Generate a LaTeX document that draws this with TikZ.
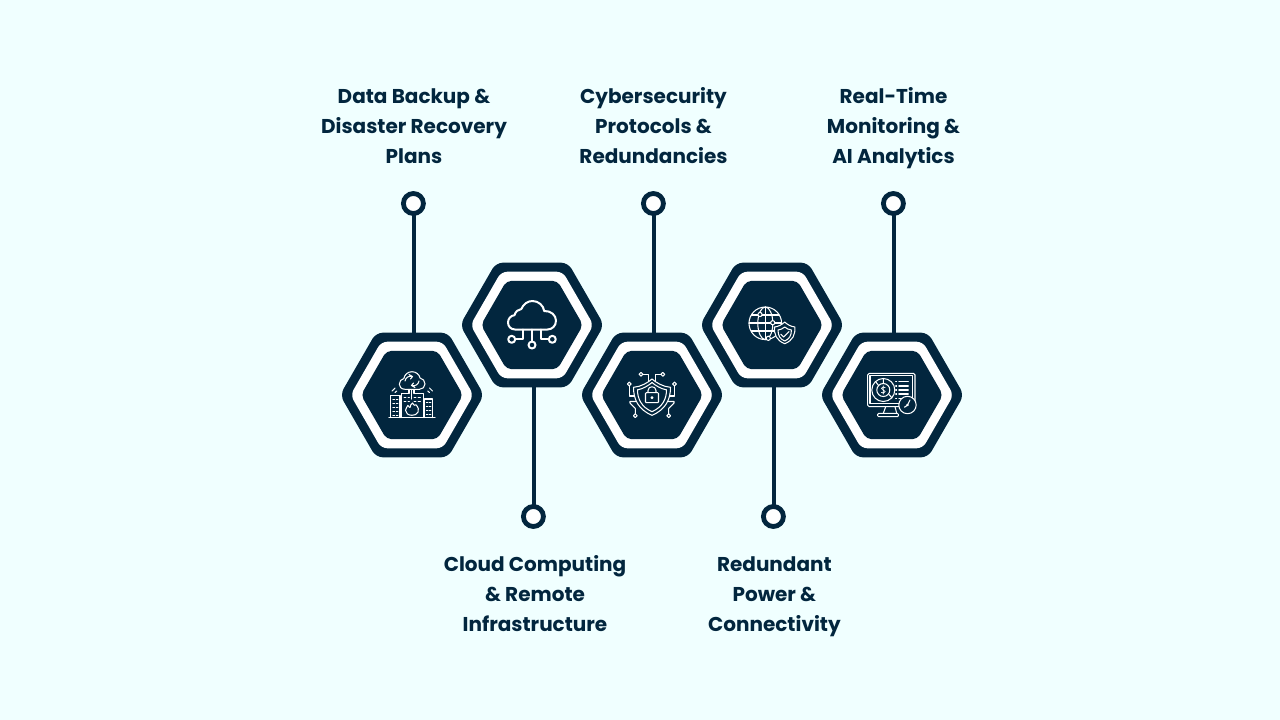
\documentclass[tikz,border=0pt]{standalone}
\usepackage{fontspec}
\setmainfont{Poppins}
\usetikzlibrary{shapes.geometric}
\definecolor{navy}{HTML}{02263E}
\definecolor{bgc}{HTML}{F0FFFF}
\tikzset{
  hexbase/.style={regular polygon,regular polygon sides=6,inner sep=0pt,outer sep=0pt,draw=none},
  hexouter/.style={hexbase,fill=navy,minimum size=144pt,rounded corners=7pt},
  hexring/.style={hexbase,fill=white,minimum size=123pt,rounded corners=6pt},
  hexinner/.style={hexbase,fill=navy,minimum size=102pt,rounded corners=5pt},
  pin/.style={circle,draw=navy,line width=4.8pt,fill=white,minimum size=20pt,inner sep=0pt,outer sep=0pt},
  stem/.style={draw=navy,line width=4.4pt},
  lbl/.style={text=navy,font=\fontsize{20}{30}\selectfont\bfseries,align=center,inner sep=0pt},
  ic/.style={draw=white,line width=1.05pt,line cap=round,line join=round},
  icb/.style={draw=white,line width=2pt,line cap=round,line join=round}
}
\begin{document}
\begin{tikzpicture}[x=1pt,y=-1pt]
\useasboundingbox (0,0) rectangle (1280,720);
\fill[bgc] (0,0) rectangle (1280,720);
% hexagons
\node[hexouter] (h1) at (412,395) {};
\node[hexouter] (h2) at (532,325) {};
\node[hexouter] (h3) at (652,395) {};
\node[hexouter] (h4) at (772,325) {};
\node[hexouter] (h5) at (892,395) {};
\foreach \p in {(412,395),(532,325),(652,395),(772,325),(892,395)}{
  \node[hexring] at \p {};
  \node[hexinner] at \p {};
}
% connectors and pins
\node[pin] (c1) at (413.4,203.5) {};
\node[pin] (c2) at (533.4,516.5) {};
\node[pin] (c3) at (653.4,203.5) {};
\node[pin] (c4) at (773.4,516.5) {};
\node[pin] (c5) at (893.4,203.5) {};
\draw[stem] ([xshift=.6pt]c1.south) -- ([xshift=.6pt]c1.south |- h1.north);
\draw[stem] ([xshift=.6pt]c2.north) -- ([xshift=.6pt]c2.north |- h2.south);
\draw[stem] ([xshift=.6pt]c3.south) -- ([xshift=.6pt]c3.south |- h3.north);
\draw[stem] ([xshift=.6pt]c4.north) -- ([xshift=.6pt]c4.north |- h4.south);
\draw[stem] ([xshift=.6pt]c5.south) -- ([xshift=.6pt]c5.south |- h5.north);
% labels
\node[lbl] (t1) at (414,126) {Data Backup \&\\Disaster Recovery\\Plans};
\node[lbl] (t2) at (535,594) {Cloud Computing\\\& Remote\\Infrastructure};
\node[lbl] (t3) at (653.5,126) {Cybersecurity\\Protocols \&\\Redundancies};
\node[lbl] (t4) at (774.4,597) {Redundant\\Power \&\\Connectivity};
\node[lbl] (t5) at (893.5,128) {Real-Time\\Monitoring \&\\AI Analytics};
% icon 1: building, cloud, fire
\draw[ic] (389,417.7) -- (435,417.7);
\draw[ic] (390.7,417.7) -- (390.7,395.7) -- (400,395.7) -- (400,417.7);
\draw[ic] (401.5,417.7) -- (401.5,393.3) -- (409,393.3) (414,393.3) -- (423.3,393.3) -- (423.3,417.7);
\draw[ic] (424.5,417.7) -- (424.5,399) -- (432.7,399) -- (432.7,417.7);
\foreach \y in {399,403,407,411,415}{
  \draw[ic,line width=.8pt] (392.8,\y) -- (394.6,\y) (396.2,\y) -- (398,\y);
}
\foreach \y in {402,406,410,414}{
  \draw[ic,line width=.8pt] (426.3,\y) -- (428,\y) (429.3,\y) -- (431,\y);
}
\foreach \y in {397.5,401}{
  \draw[ic,line width=.8pt] (404,\y) -- (406,\y) (408,\y) -- (409.5,\y) (414,\y) -- (416,\y) (418,\y) -- (420.5,\y);
}
\draw[ic] (409,393.3) -- (409,389.3) (414,393.3) -- (414,389.3) (411.7,389.3) -- (411.7,399);
\draw[ic] (405,389.3) .. controls (401,389.3) and (399.3,386.5) .. (399.3,384.2) .. controls (399.3,381) and (401.5,379) .. (403.8,378.6) .. controls (404.5,374.5) and (408,371.7) .. (412,371.7) .. controls (416,371.7) and (419.5,374.5) .. (420,378) .. controls (423,378.5) and (425,381) .. (425,384) .. controls (425,387) and (422.5,389.3) .. (419.5,389.3) -- cycle;
\draw[ic] (405,381) .. controls (405.5,377.5) and (409,375.5) .. (412.5,376.5) (409,374.5) -- (412.5,376.5) -- (410.5,379);
\draw[ic] (419,381) .. controls (418.5,384.5) and (415,386.5) .. (411.5,385.5) (415,387.5) -- (411.5,385.5) -- (413.5,383);
\draw[ic] (412.5,403) .. controls (413,405.5) and (415.5,406) .. (416,404.8) .. controls (418.5,407.5) and (419,410) .. (418,412) .. controls (417,414.5) and (414.5,415.3) .. (412,415.3) .. controls (408,415.3) and (405.5,413) .. (405.5,410.3) .. controls (405.5,408) and (407.3,407.5) .. (407.8,405.5) .. controls (408.7,406.8) and (409.7,407.3) .. (410,407.5) .. controls (410.3,405.5) and (411,404) .. (412.5,403) -- cycle;
\draw[ic] (392,391) .. controls (392.7,389.7) and (393.7,388.7) .. (395,388) (395,392.5) .. controls (395.5,391.8) and (396,391.3) .. (396.8,391);
\draw[ic] (432.5,391) .. controls (431.8,389.7) and (430.8,388.7) .. (429.5,388) (429.5,392.5) .. controls (429,391.8) and (428.5,391.3) .. (427.7,391);
% icon 2: cloud
\draw[icb] (515,329.5) .. controls (511,329.5) and (508,326.5) .. (508,322.5) .. controls (508,318.5) and (511,315.5) .. (514.5,315.2) .. controls (515.5,311.5) and (518,309.5) .. (521.3,309) .. controls (523.5,304) and (527.5,301) .. (532.5,301) .. controls (538.5,301) and (543.5,305.5) .. (544.2,311) .. controls (551,310.5) and (556,315.5) .. (556,320.5) .. controls (556,326) and (552,329.5) .. (547.5,329.5) -- cycle;
\draw[icb] (532,329.5) -- (532,341.5);
\draw[icb] (532,345) circle[radius=3.5pt];
\draw[icb] (515.2,339.3) -- (522.5,339.3) -- (522.5,329.5);
\draw[icb] (511.7,339.3) circle[radius=3.5pt];
\draw[icb] (548.8,339.3) -- (541,339.3) -- (541,329.5);
\draw[icb] (552.3,339.3) circle[radius=3.5pt];
% icon 3: shield
\draw[ic] (652,379) .. controls (648,382.5) and (641,386.8) .. (633.5,387.3) .. controls (633.5,399) and (638,409.5) .. (652,415.3) .. controls (666,409.5) and (670.5,399) .. (670.5,387.3) .. controls (663,386.8) and (656,382.5) .. (652,379) -- cycle;
\draw[ic] (652,382.5) .. controls (648.5,385.5) and (643,389) .. (637.5,389.8) .. controls (637.5,399) and (641.5,407) .. (652,411.7) .. controls (662.5,407) and (666.5,399) .. (666.5,389.8) .. controls (661,389) and (655.5,385.5) .. (652,382.5) -- cycle;
\draw[ic,rounded corners=.8pt] (645.5,392.7) rectangle (658.5,402.7);
\draw[ic] (648,392.7) -- (648,390.5) .. controls (648,385.5) and (656,385.5) .. (656,390.5) -- (656,392.7);
\draw[ic] (652,397.7) circle[radius=1pt];
\draw[ic] (641,374.3) circle[radius=1.9pt];
\draw[ic] (662.8,374.3) circle[radius=1.9pt];
\draw[ic] (629.3,384) circle[radius=1.9pt];
\draw[ic] (674.5,384) circle[radius=1.9pt];
\draw[ic] (635.3,415.7) circle[radius=1.9pt];
\draw[ic] (668.7,415.7) circle[radius=1.9pt];
\draw[ic] (642.9,374.3) -- (648.3,374.3) -- (648.3,380.5);
\draw[ic] (660.9,374.3) -- (655.7,374.3) -- (655.7,380.5);
\draw[ic] (629.3,385.9) -- (629.3,396) -- (634.5,396);
\draw[ic] (674.5,385.9) -- (674.5,396) -- (669.5,396);
\draw[ic] (635.3,413.8) -- (635.3,408.5) -- (630,403) -- (630,401.5) -- (635.5,401.5);
\draw[ic] (668.7,413.8) -- (668.7,408.5) -- (674,403) -- (674,401.5) -- (668.5,401.5);
% icon 4: globe and shield
\draw[ic] (765.3,323.3) circle[radius=16.3pt];
\draw[ic] (765.3,323.3) ellipse[x radius=7.5pt,y radius=16.3pt];
\draw[ic] (765.3,307) -- (765.3,339.6);
\draw[ic] (749,323) -- (781.6,323);
\draw[ic] (751.5,315) -- (779,315) (751.5,331) -- (779,331);
\draw[ic,fill=navy] (760,314.5) circle[radius=2.1pt];
\draw[ic,fill=navy] (772.7,322.7) circle[radius=2.1pt];
\draw[ic,fill=navy] (768.3,338.3) circle[radius=2.1pt];
\draw[ic,fill=navy] (784.7,322) .. controls (781.8,324.8) and (778.5,326.5) .. (774.5,327) .. controls (774,334.5) and (776.5,340.5) .. (784.7,343.7) .. controls (792.9,340.5) and (795.4,334.5) .. (794.9,327) .. controls (790.9,326.5) and (787.6,324.8) .. (784.7,322) -- cycle;
\draw[ic] (778,330) .. controls (780.5,329.8) and (783,328.5) .. (784.7,327) .. controls (786.4,328.5) and (788.9,329.8) .. (791.4,330) .. controls (791.4,335.5) and (789.5,339) .. (784.7,341) .. controls (779.9,339) and (778,335.5) .. (778,330) -- cycle;
\draw[ic] (780.8,334.2) -- (783.6,337) -- (789,331.5);
% icon 5: monitor
\draw[ic,rounded corners=1.5pt] (867.7,373.3) rectangle (915,406.7);
\draw[ic] (870,375.6) rectangle (912.7,403.4);
\draw[ic] (885.7,406.7) -- (883.3,413.3) (895,406.7) -- (896.7,413.3);
\draw[ic,rounded corners=1pt] (877.7,413.3) rectangle (898.3,416.7);
\draw[ic] (883.3,390) circle[radius=11.5pt];
\draw[ic] (883.3,390) circle[radius=6.5pt];
\draw[ic] (883.3,378.5) -- (883.3,383.5) (875.5,381.5) -- (878.6,385.5) (889,394.5) -- (892,398);
\draw[ic,line width=.7pt] (885.2,387.6) .. controls (884.5,386.6) and (881.5,386.6) .. (881.5,388.4) .. controls (881.5,390.2) and (885.2,389.8) .. (885.2,391.6) .. controls (885.2,393.4) and (882,393.4) .. (881.4,392.4) (883.3,385.8) -- (883.3,394.2);
\foreach \y in {381.7,386,390,394,398.3}{
  \draw[ic] (895.7,\y) -- (896.7,\y) (898.8,\y) -- (908.3,\y);
}
\draw[ic,fill=navy] (907.5,405) circle[radius=8.7pt];
\draw[ic] (907.5,405) circle[radius=.8pt];
\draw[ic] (907.9,404.2) -- (910,400) (906.9,405.6) -- (904.5,407.2);
\end{tikzpicture}
\end{document}
